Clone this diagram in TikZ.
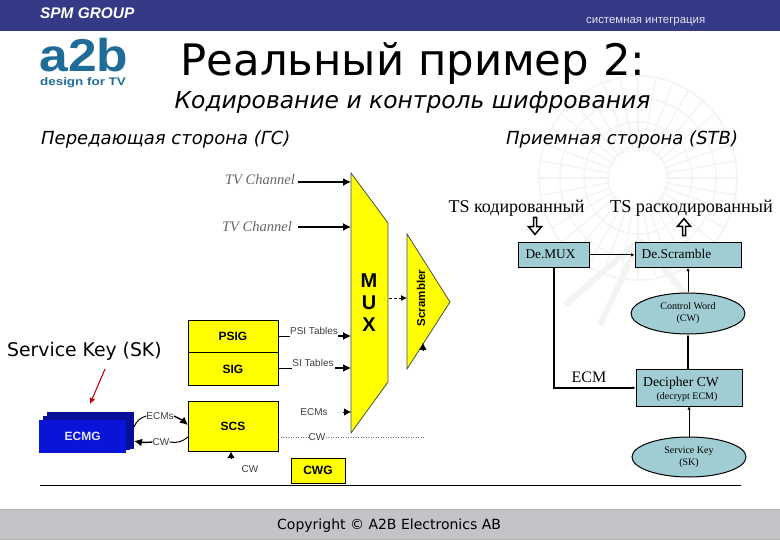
\documentclass[tikz,border=0pt]{standalone}
\usepackage{fontspec}
\setmainfont{DejaVu Sans}
\newfontfamily\serifx{Liberation Serif}
\newfontfamily\arialx{Liberation Sans}
\usetikzlibrary{arrows.meta,shapes.geometric,shapes.arrows}
\definecolor{barblue}{HTML}{343A87}
\definecolor{logoblue}{HTML}{1F6C99}
\definecolor{teal}{HTML}{A0CDD3}
\definecolor{yel}{HTML}{FFFF00}
\definecolor{ecmg}{HTML}{0A14D8}
\definecolor{foot}{HTML}{C3C4C8}
\definecolor{wm}{HTML}{F3F3F3}
\tikzset{x=1pt,y=-1pt,
 tbox/.style={draw=black,fill=teal,line width=.7pt,inner sep=0pt,anchor=north west},
 ybox/.style={draw=black,fill=yel,line width=.9pt,inner sep=0pt,anchor=north west,font=\arialx\bfseries\fontsize{12}{13}\selectfont},
 oval/.style={ellipse,draw=black,fill=teal,line width=1pt,inner sep=0pt,minimum width=114pt,minimum height=41pt,align=center,font=\serifx\fontsize{10}{12}\selectfont},
 small/.style={font=\arialx\fontsize{10}{11}\selectfont,text=black!75,inner sep=0pt},
 tvch/.style={font=\serifx\itshape\fontsize{14.5}{15}\selectfont,text=black!60,inner sep=0pt,anchor=east},
 head/.style={font=\itshape\fontsize{18}{20}\selectfont,inner sep=0pt,anchor=base west},
 tick/.style={-{Latex[length=8pt,width=8pt]},line width=1.4pt},
 thin tip/.style={-{Latex[length=3.5pt,width=3.5pt]},line width=1pt},
 thick tip/.style={-{Latex[length=3pt,width=3pt]},line width=1.6pt},
 hollow/.style={single arrow,draw=black,fill=white,line width=1.5pt,minimum width=13pt,minimum height=17pt,single arrow head extend=2.5pt,single arrow tip angle=80,inner sep=0pt},
}
\begin{document}
\begin{tikzpicture}
\useasboundingbox (0,0) rectangle (780,540);
\fill[white] (0,0) rectangle (780,540);
% watermark
\begin{scope}[draw=wm,line width=1.3pt]
\draw[line width=1.6pt] (638,178) ellipse (99 and 102);
\draw (638,178) ellipse (78 and 80);
\draw (638,178) ellipse (54 and 56);
\draw (638,178) ellipse (30 and 31);
\foreach \a in {0,10,...,350}{\draw (638,178) ++(\a:28) -- ++(\a:72);}
\draw[line width=6pt] (640,240) -- (565,305);
\draw[line width=6pt] (640,240) -- (600,325);
\draw[line width=6pt] (640,240) -- (690,300);
\end{scope}
% header
\fill[barblue] (0,0) rectangle (780,31);
\node[inner sep=0pt,anchor=west,text=white] (spm) at (40,13) {\arialx\bfseries\itshape\fontsize{15.4}{16}\selectfont SPM GROUP};
\node[inner sep=0pt,anchor=west,text=white!85!barblue] (si) at (586,22) {\arialx\fontsize{11.4}{12}\selectfont системная интеграция};
% logo
\node[inner sep=0pt,anchor=base,text=logoblue] (a2b) at (84,71.5) {\scalebox{1.12}[1]{\arialx\bfseries\fontsize{46}{47}\selectfont a2b}};
\node[inner sep=0pt,anchor=base,text=logoblue] (dft) at (83,85.5) {\scalebox{1.22}[1]{\arialx\bfseries\fontsize{11}{12}\selectfont design for TV}};
% titles
\node[inner sep=0pt,anchor=base] (title) at (413,76) {\fontsize{43.4}{46}\selectfont Реальный пример 2:};
\node[inner sep=0pt,anchor=base] (sub) at (412.5,109) {\itshape\fontsize{23.4}{26}\selectfont Кодирование и контроль шифрования};
\node[head] (tx) at (41,145) {Передающая сторона (ГС)};
\node[head] (rx) at (506,145) {Приемная сторона (STB)};
% MUX
\path[draw=black!70,fill=yel,line width=.8pt] (351,173) -- (388,223) -- (388,382) -- (351,433) -- cycle;
\coordinate (muxa) at (351,182);\coordinate (muxb) at (351,227);\coordinate (muxc) at (351,336);\coordinate (muxd) at (351,368);\coordinate (muxe) at (351,412);
\node[inner sep=0pt,font=\arialx\bfseries\fontsize{20}{22}\selectfont] (muxm) at (369,281) {M};
\node[inner sep=0pt,font=\arialx\bfseries\fontsize{20}{22}\selectfont] (muxu) at (369,303) {U};
\node[inner sep=0pt,font=\arialx\bfseries\fontsize{20}{22}\selectfont] (muxx) at (369,325) {X};
\path[draw=black!70,fill=yel,line width=.8pt] (407,234) -- (450,302) -- (407,369) -- cycle;
\node[inner sep=0pt,rotate=90] (scr) at (421,298) {\arialx\bfseries\fontsize{11.5}{13}\selectfont Scrambler};
\coordinate (scra) at (407,298);\coordinate (scrb) at (423,343);\coordinate (scrc) at (423,350);
\coordinate (muxo) at (389,298);
\draw[densely dashed,-{Latex[length=6pt,width=6pt]},line width=.8pt] (muxo) -- (scra);
\draw[-{Latex[length=7pt,width=7pt]},line width=.1pt] (scrc) -- (scrb);
% TV channels
\node[tvch] (tv1) at (295,180) {TV Channel};
\node[tvch] (tv2) at (292,227) {TV Channel};
\coordinate (tv1s) at (298,182);\coordinate (tv2s) at (298,227);
\draw[tick] (tv1s) -- (muxa);
\draw[tick] (tv2s) -- (muxb);
% PSIG etc
\node[ybox,minimum width=90pt,minimum height=32pt] (psig) at (187.5,320) {PSIG};
\node[ybox,minimum width=90pt,minimum height=33pt] (sig) at (187.5,352) {SIG};
\node[ybox,minimum width=90pt,minimum height=50pt] (scs) at (187.5,401) {SCS};
\node[ybox,minimum width=54pt,minimum height=25pt] (cwg) at (290.5,457.5) {CWG};
\node[small] (psit) at (314,331) {PSI Tables};
\node[small] (sit) at (313,363) {SI Tables};
\node[small] (ecmt) at (314,412) {ECMs};
\node[small] (cwt) at (317,437) {CW};
\node[small] (cwb) at (250,469) {CW};
\coordinate (psiA) at (338,336);\coordinate (siA) at (335,368);\coordinate (ecmA) at (343,412);
\draw[line width=1pt] (psig.east) -- (psit.west |- psig.east);
\draw[tick] (psiA) -- (muxc);
\draw[line width=1pt] (sig.east) -- (sit.west |- sig.east);
\draw[tick] (siA) -- (muxd);
\draw[-{Latex[length=7pt,width=7pt]},line width=.1pt] (ecmA) -- (muxe);
\draw[dotted,black!55,line width=.5pt] (scs.east |- cwt.west) -- (cwt.west);
\draw[dotted,black!55,line width=.5pt] (cwt.east) -- (424,437);
\coordinate (scsb) at (231,452);
\draw[-{Latex[length=6pt,width=7pt]},line width=.1pt] (231,458) -- (scsb);
% ECMG
\fill[ecmg!70!black] (47,412) rectangle (134,449);
\fill[ecmg!70!black] (43,416) rectangle (130,450);
\node[fill=ecmg,inner sep=0pt,anchor=north west,minimum width=87pt,minimum height=33pt,text=white!90!blue,font=\arialx\bfseries\fontsize{12}{13}\selectfont] (ecmgb) at (39,419.5) {ECMG};
\node[small] (ecml) at (160,416) {ECMs};
\node[small] (cwl) at (161,442) {CW};
\coordinate (ea) at (134,427);\coordinate (eb) at (134,441);\coordinate (sa) at (188,425);\coordinate (sb) at (188,437);
\draw[line width=1pt] (ea) to[bend left=25] (ecml.west);
\draw[tick] (ecml.east) to[bend left=8] (sa);
\draw[line width=1pt] (sb) to[bend left=25] (cwl.east);
\draw[tick] (cwl.west) to[bend left=8] (eb);
% service key
\node[inner sep=0pt,anchor=base west] (sk) at (7,357) {\fontsize{18.8}{20}\selectfont Service Key (SK)};
\coordinate (ra) at (105,369);\coordinate (rb) at (90,404);
\draw[red!80!black,-{Latex[length=6pt,width=6pt]},line width=1.1pt] (ra) -- (rb);
% receiver
\node[inner sep=0pt,anchor=base] (tsk) at (516.5,213) {\serifx\fontsize{18}{20}\selectfont TS кодированный};
\node[inner sep=0pt,anchor=base] (tsr) at (691.5,213) {\serifx\fontsize{18.2}{20}\selectfont TS раскодированный};
\node[hollow,rotate=-90] (ah1) at (535,225) {};
\node[hollow,rotate=90] (ah2) at (684,228) {};
\node[tbox,minimum width=71pt,minimum height=25pt] (demux) at (518,242) {};
\node[inner sep=0pt,anchor=base] (demuxt) at (550.5,259) {\serifx\fontsize{13.3}{14}\selectfont De.MUX};
\node[tbox,minimum width=106.5pt,minimum height=25pt] (descr) at (634.5,242) {};
\node[inner sep=0pt,anchor=base] (descrt) at (676.5,259) {\serifx\fontsize{13.4}{14}\selectfont De.Scramble};
\node[oval] (cwo) at (688,313.5) {Control Word\\(CW)};
\node[tbox,minimum width=106.5pt,minimum height=36pt] (dec) at (635.5,369.5) {};
\node[inner sep=0pt,anchor=base] (dect) at (681,386) {\serifx\fontsize{13.7}{14}\selectfont Decipher CW};
\node[inner sep=0pt,anchor=base] (dect2) at (687,399.5) {\serifx\fontsize{10}{11}\selectfont (decrypt ECM)};
\node[oval,minimum height=40pt] (sko) at (689,457) {Service Key\\(SK)};
\node[inner sep=0pt,anchor=base] (ecm) at (589,383) {\serifx\fontsize{16}{17}\selectfont ECM};
\draw[thin tip] (demux.east) -- (descr.west);
\draw[thin tip] (cwo.north) -- (cwo.north |- descr.south);
\draw[thick tip] (cwo.south |- dec.north) -- (cwo.south);
\draw[thick tip] (demux.south) |- (dec.west);
\draw[thin tip] (sko.north) -- (sko.north |- dec.south);
% rule + footer
\coordinate (la) at (40,485.5);\coordinate (lb) at (741,485.5);
\draw[black,line width=.8pt] (la) -- (lb);
\fill[foot] (0,509.5) rectangle (780,539.5);
\draw[black!30,line width=.6pt] (0,509.5) -- (780,509.5) (0,539.5) -- (780,539.5);
\node[inner sep=0pt,anchor=base west] (copy) at (277,529.5) {\fontsize{14}{16}\selectfont Copyright © A2B Electronics AB};
\end{tikzpicture}
\end{document}
